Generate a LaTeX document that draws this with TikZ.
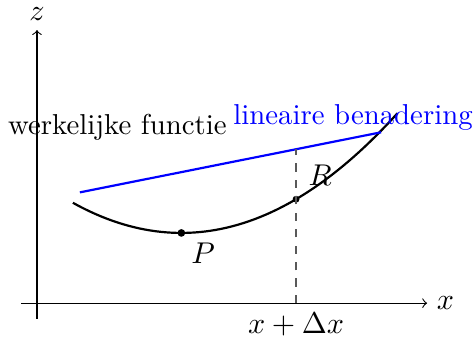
\documentclass[tikz,border=0pt]{standalone}
\begin{document}
\begin{tikzpicture}[x=1cm,y=1cm,
  every node/.style={font=\fontsize{10.5}{12.6}\selectfont},
  axis/.style={->,thin},
  dot/.style={circle,fill=black,inner sep=0pt,minimum size=#1},
  curve/.style={thick,black},
  approx/.style={thick,blue},
  guide/.style={dashed,black!65,semithick}]
\useasboundingbox (-0.474,-0.474) rectangle (5.60,3.885);
% axes
\coordinate (xs) at (-0.2,0);
\coordinate (xe) at (5,0);
\coordinate (ys) at (0,-0.2);
\coordinate (ye) at (0,3.5);
\draw[axis] (xs) -- (xe) node[right] {$x$};
\draw[axis] (ys) -- (ye) node[above] {$z$};
% curve
\draw[curve,domain=0.46:4.62,samples=60] plot (\x,{0.2*(\x-1.85)^2+0.9});
% linear approximation
\coordinate (la) at (0.55,1.42);
\coordinate (lb) at (4.41,2.19);
\draw[approx] (la) -- (lb);
% points
\node[dot=2.8pt] (P) at (1.85,0.9) {};
\node[dot=2.5pt] (R) at (3.32,{0.2*(3.32-1.85)^2+0.9}) {};
\node at (2.13,0.64) {$P$};
\node at (3.63,1.64) {$R$};
% dashed guide
\coordinate (Rx) at (3.32,0);
\coordinate (Rt) at (3.32,1.97);
\draw[guide] (Rx) -- (Rt);
\node[below] at (Rx) {$x+\Delta x$};
% labels
\node at (1.03,2.26) {werkelijke functie};
\node[blue] at (4.05,2.38) {lineaire benadering};
\end{tikzpicture}
\end{document}
